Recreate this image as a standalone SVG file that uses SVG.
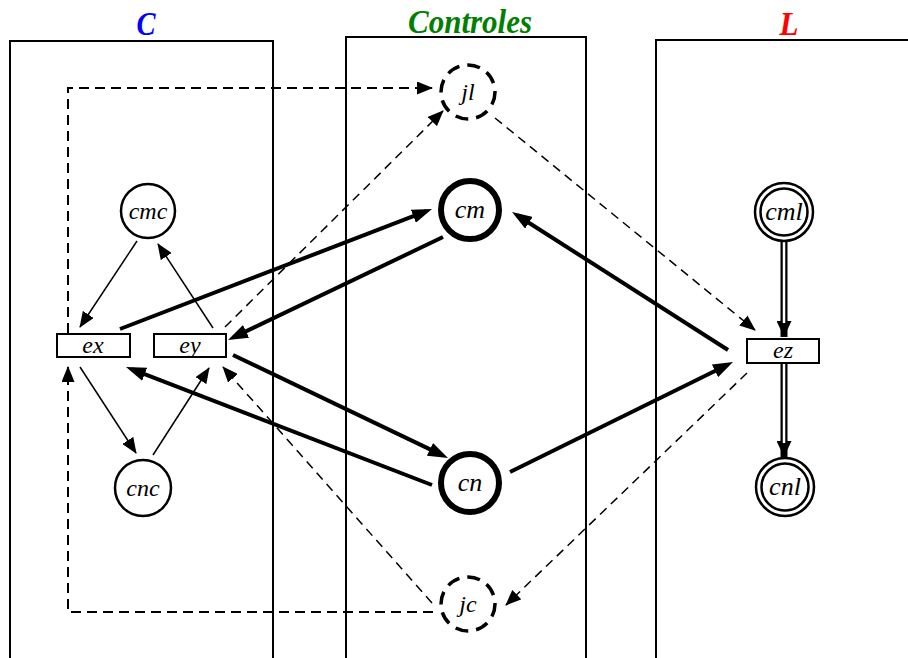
<svg xmlns="http://www.w3.org/2000/svg" width="908" height="658" viewBox="0 0 908 658">
<style>
.box{fill:none;stroke:#000;stroke-width:2}
.title{font-family:"Liberation Serif","Times New Roman",serif;font-style:italic;font-weight:bold;font-size:34px;text-anchor:middle}
.lbl{font-family:"Liberation Serif","Times New Roman",serif;font-style:italic;font-size:24px;text-anchor:middle}
.big{font-size:26px}
.n{fill:#fff;stroke:#000;stroke-width:2.5}
.nb{fill:#fff;stroke:#000;stroke-width:6}
.nd{fill:#fff;stroke:#000;stroke-width:3.5;stroke-dasharray:13 8}
.r{fill:#fff;stroke:#000;stroke-width:2}
.thick{fill:none;stroke:#000;stroke-width:4;marker-end:url(#ah)}
.thin{fill:none;stroke:#000;stroke-width:1.5;marker-end:url(#at)}
.dash{fill:none;stroke:#000;stroke-width:1.5;stroke-dasharray:9 6;marker-end:url(#at)}
.dash2{fill:none;stroke:#000;stroke-width:2;stroke-dasharray:10 6;marker-end:url(#at)}
.dblo{fill:none;stroke:#000;stroke-width:7;marker-end:url(#ad)}
.dbli{fill:none;stroke:#fff;stroke-width:2.5}
</style>
<defs>
<marker id="ah" markerUnits="userSpaceOnUse" markerWidth="20" markerHeight="14" refX="14" refY="7" orient="auto"><path d="M0,0 L20,7 L0,14 z" fill="#000"/></marker>
<marker id="at" markerUnits="userSpaceOnUse" markerWidth="16" markerHeight="13" refX="15" refY="6.5" orient="auto"><path d="M0,0 L16,6.5 L0,13 z" fill="#000"/></marker>
<marker id="ad" markerUnits="userSpaceOnUse" markerWidth="16" markerHeight="15" refX="16" refY="7.5" orient="auto"><path d="M0,0 L16,7.5 L0,15 z" fill="#000"/></marker>
</defs>
<g id="containers">
<rect class="box" x="10" y="41" width="263" height="640"/>
<rect class="box" x="346" y="37" width="240" height="640"/>
<rect class="box" x="656" y="40" width="260" height="640"/>
<text class="title" x="146" y="35" fill="#0000ff" textLength="19" lengthAdjust="spacingAndGlyphs">C</text>
<text class="title" x="470" y="33" fill="#008000" textLength="124" lengthAdjust="spacingAndGlyphs">Controles</text>
<text class="title" x="789" y="35" fill="#ff0000" textLength="19" lengthAdjust="spacingAndGlyphs">L</text>
</g>
<g id="connectors">
<path class="dash2" d="M68,333 V88 H432"/>
<path class="dash2" d="M433,612 H68 V367"/>
<path class="thin" d="M137,241 L80,327"/>
<path class="thin" d="M213,328 L158,244"/>
<path class="thin" d="M80,367 L136,453"/>
<path class="thin" d="M153,455 L209,368"/>
<path class="thick" d="M120,329 L426.4,211.2"/>
<path class="thick" d="M443,237 L233.4,337.4"/>
<path class="thick" d="M233,355 L442.6,455.4"/>
<path class="thick" d="M432,485 L131.6,369.2"/>
<path class="thick" d="M728,350 L517.1,215.2"/>
<path class="thick" d="M510,472 L727.6,364.7"/>
<path class="dash" d="M225,327 L443,111"/>
<path class="dash" d="M495,118 L755,330"/>
<path class="dash" d="M747,373 L506,605"/>
<path class="dash" d="M432,603 L223,367"/>
<path class="dblo" d="M784,242 V337"/>
<path class="dbli" d="M784,242 V323"/>
<path class="dblo" d="M784,363 V457"/>
<path class="dbli" d="M784,363 V443"/>
</g>
<g id="node-jl"><circle class="nd" cx="468" cy="92" r="27"/><text class="lbl" x="468" y="100">jl</text></g>
<g id="node-cm"><circle class="nb" cx="470" cy="210" r="29"/><text class="lbl big" x="470" y="218">cm</text></g>
<g id="node-cn"><circle class="nb" cx="470" cy="483" r="29"/><text class="lbl big" x="470" y="491">cn</text></g>
<g id="node-jc"><circle class="nd" cx="468" cy="604" r="27"/><text class="lbl" x="468" y="612">jc</text></g>
<g id="node-cmc"><circle class="n" cx="148" cy="211" r="27"/><text class="lbl" x="148" y="219">cmc</text></g>
<g id="node-cnc"><circle class="n" cx="143" cy="488" r="28"/><text class="lbl" x="143" y="496">cnc</text></g>
<g id="node-ex"><rect class="r" x="57" y="334" width="73" height="23"/><text class="lbl" x="93" y="353">ex</text></g>
<g id="node-ey"><rect class="r" x="154" y="334" width="72" height="23"/><text class="lbl" x="190" y="353">ey</text></g>
<g id="node-ez"><rect class="r" x="747" y="339" width="72" height="24"/><text class="lbl" x="783" y="358">ez</text></g>
<g id="node-cml"><circle class="n" cx="784" cy="212" r="29"/><circle fill="none" stroke="#000" stroke-width="2.5" cx="784" cy="212" r="23.5"/><text class="lbl big" x="784" y="220">cml</text></g>
<g id="node-cnl"><circle class="n" cx="785" cy="487" r="29"/><circle fill="none" stroke="#000" stroke-width="2.5" cx="785" cy="487" r="23.5"/><text class="lbl big" x="785" y="495">cnl</text></g>
</svg>
